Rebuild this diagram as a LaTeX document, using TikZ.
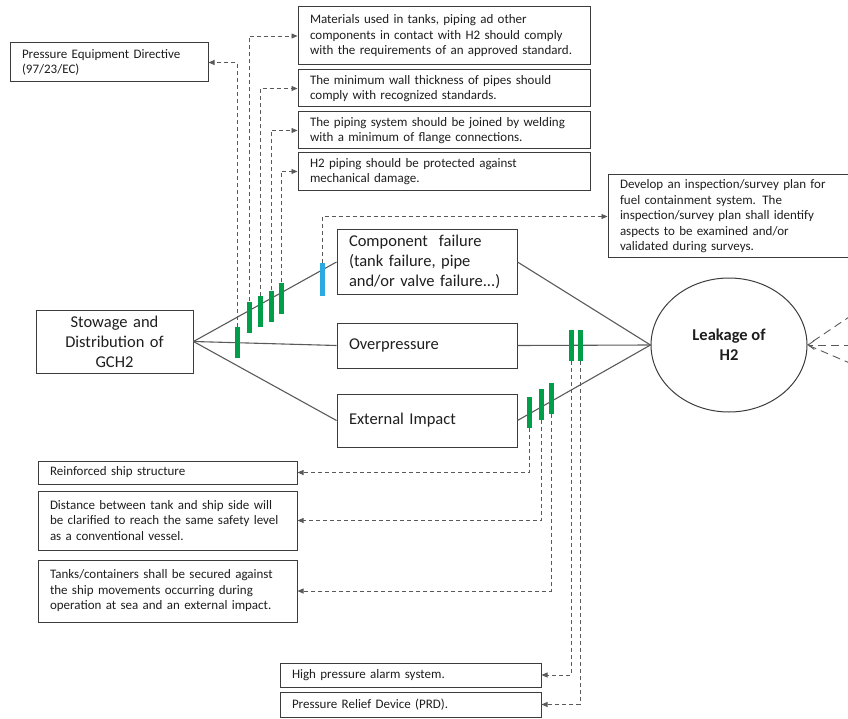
\documentclass[tikz,border=0pt]{standalone}
\usepackage{fontspec}
\setmainfont{Carlito}
\usetikzlibrary{arrows.meta,shapes.geometric}
\definecolor{boxgray}{HTML}{3C3C3C}
\definecolor{linegray}{HTML}{5A5A5A}
\definecolor{txt}{HTML}{1E1E1E}
\definecolor{barg}{RGB}{0,158,73}
\definecolor{barb}{RGB}{41,171,226}
\begin{document}
\begin{tikzpicture}[x=1pt,y=-1pt,
  smallbox/.style={draw=boxgray, line width=1pt, rectangle, inner xsep=12pt, inner ysep=0pt,
    align=left, text=txt, font=\fontsize{13}{15.5}\selectfont},
  bigbox/.style={draw=boxgray, line width=1pt, rectangle, inner xsep=12pt, inner ysep=0pt,
    align=left, text=txt, font=\fontsize{16.5}{20}\selectfont},
  mainline/.style={draw=linegray, line width=1.1pt},
  gbar/.style={rectangle, fill=barg, minimum width=5pt, minimum height=31pt, inner sep=0pt},
  bbar/.style={rectangle, fill=barb, minimum width=5pt, minimum height=33pt, inner sep=0pt},
  dashlink/.style={draw=linegray, line width=0.8pt, dash pattern=on 4pt off 3pt,
    -{Triangle[length=6pt,width=5pt]}},
  rdash/.style={draw=linegray, line width=0.9pt, dash pattern=on 8pt off 5pt}
]
\useasboundingbox (0,0) rectangle (848,719);

% main boxes
\node[bigbox, align=center, inner xsep=0pt, minimum width=157pt, minimum height=63pt, text width=152pt] (stow) at (114.5,341.5)
  {Stowage and\\Distribution of\\GCH2};
\node[bigbox, minimum width=180pt, minimum height=64pt, text width=156pt] (comp) at (427,262)
  {Component\ \ failure\\(tank failure, pipe\\and/or valve failure...)};
\node[bigbox, minimum width=180pt, minimum height=45pt, text width=156pt] (over) at (427,345.5)
  {Overpressure};
\node[bigbox, minimum width=180pt, minimum height=53pt, text width=156pt] (ext) at (427,420.5)
  {External Impact};
\node[draw=boxgray, line width=1pt, ellipse, minimum width=156pt, minimum height=134pt, inner sep=0pt,
  align=center, text=txt, font=\fontsize{16.5}{20}\selectfont\bfseries] (leak) at (729,345) {Leakage of\\H2};

% measure boxes
\node[smallbox, minimum width=198pt, minimum height=39pt, text width=174pt] (ped) at (109,62.5)
  {Pressure Equipment Directive\\(97/23/EC)};
\node[smallbox, minimum width=292pt, minimum height=58pt, text width=268pt] (m1) at (444,36)
  {Materials used in tanks, piping ad other\\components in contact with H2 should comply\\with the requirements of an approved standard.};
\node[smallbox, minimum width=292pt, minimum height=37pt, text width=268pt] (m2) at (444,88.5)
  {The minimum wall thickness of pipes should\\comply with recognized standards.};
\node[smallbox, minimum width=292pt, minimum height=37pt, text width=268pt] (m3) at (444,130.5)
  {The piping system should be joined by welding\\with a minimum of flange connections.};
\node[smallbox, minimum width=292pt, minimum height=38pt, text width=268pt] (m4) at (444,171.5)
  {H2 piping should be protected against\\mechanical damage.};
\node[smallbox, minimum width=244pt, minimum height=83pt, text width=220pt] (insp) at (730,216.5)
  {Develop an inspection/survey plan for\\fuel containment system. The\\inspection/survey plan shall identify\\aspects to be examined and/or\\validated during surveys.};
\node[smallbox, minimum width=259pt, minimum height=23pt, text width=235pt] (r1) at (167.5,472.5)
  {Reinforced ship structure};
\node[smallbox, minimum width=259pt, minimum height=59pt, text width=235pt] (r2) at (167.5,520.5)
  {Distance between tank and ship side will\\be clarified to reach the same safety level\\as a conventional vessel.};
\node[smallbox, minimum width=259pt, minimum height=62pt, text width=235pt] (r3) at (167.5,591)
  {Tanks/containers shall be secured against\\the ship movements occurring during\\operation at sea and an external impact.};
\node[smallbox, minimum width=261pt, minimum height=24pt, text width=237pt] (hpa) at (410.5,675)
  {High pressure alarm system.};
\node[smallbox, minimum width=261pt, minimum height=25pt, text width=237pt] (prd) at (410.5,704.5)
  {Pressure Relief Device (PRD).};

% main connectors
\draw[mainline] (stow.east) -- (comp.west);
\draw[mainline] (stow.east) -- (over.west);
\draw[mainline] (stow.east) -- (ext.west);
\draw[mainline] (comp.east) -- (leak.west);
\draw[mainline] (over.east) -- (leak.west);
\draw[mainline] (ext.east) -- (leak.west);

% right incoming dashed lines
\coordinate (e1) at (852,315);
\coordinate (e2) at (852,345);
\coordinate (e3) at (852,364);
\draw[rdash] (e1) -- (leak.east);
\draw[rdash, -{Straight Barb[length=6pt,width=9pt]}] (e2) -- (leak.east);
\draw[rdash] (e3) -- (leak.east);

% barriers
\node[gbar] (ba) at (237,342.5) {};
\node[gbar] (bb) at (249,317) {};
\node[gbar] (bc) at (260,311.5) {};
\node[gbar] (bd) at (271,306) {};
\node[gbar] (be) at (281,298) {};
\node[bbar] (bl) at (322,279.5) {};
\node[gbar] (o1) at (571,345.5) {};
\node[gbar] (o2) at (580,345.5) {};
\node[gbar] (x1) at (529,412) {};
\node[gbar] (x2) at (541,404) {};
\node[gbar] (x3) at (551,398) {};

% dashed links
\draw[dashlink] (ba.north) |- (ped.east);
\draw[dashlink] (bb.north) |- (m1.west);
\draw[dashlink] (bc.north) |- (m2.west);
\draw[dashlink] (bd.north) |- (m3.west);
\draw[dashlink] (be.north) |- (m4.west);
\draw[dashlink] (bl.north) |- (insp.west);
\draw[dashlink] (o1.south) |- (hpa.east);
\draw[dashlink] (o2.south) |- (prd.east);
\draw[dashlink] (x1.south) |- (r1.east);
\draw[dashlink] (x2.south) |- (r2.east);
\draw[dashlink] (x3.south) |- (r3.east);
\end{tikzpicture}
\end{document}
